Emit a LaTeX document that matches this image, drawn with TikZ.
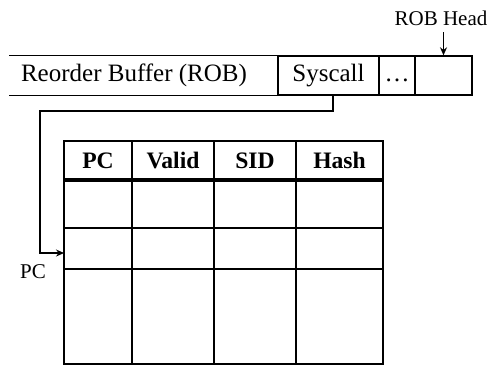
\documentclass[tikz,border=0pt]{standalone}
\usepackage{fontspec}
\setmainfont{Liberation Serif}
\usetikzlibrary{arrows.meta,calc}
\begin{document}
\begin{tikzpicture}[x=0.5pt,y=-0.5pt,
  line width=0.7pt,
  robcell/.style={rectangle,inner sep=0pt,minimum height=19.5pt,
    font=\fontsize{12.5}{14}\selectfont},
  headcell/.style={inner sep=0pt,font=\fontsize{11.8}{14}\selectfont\bfseries},
  smalltext/.style={inner sep=0pt,font=\fontsize{10.5}{12}\selectfont},
  link/.style={-{Stealth[length=4pt,width=3.5pt]}}]
\useasboundingbox (0,0) rectangle (491,366);

% reorder buffer strip (open on the left)
\node[robcell,minimum width=134pt] (robmain) at (144,75.5) {};
\node[robcell] (robtext) at (134,75.5) {\strut Reorder Buffer (ROB)};
\draw (robmain.north west) -- (robmain.north east) -- (robmain.south east) -- (robmain.south west);
\node[robcell,draw,minimum width=50.5pt] (syscall) at (328.5,75.5) {\strut Syscall};
\node[robcell,draw,minimum width=18pt] (dots) at (397,75.5) {\strut\dots};
\node[robcell,draw,minimum width=28.5pt] (head) at (443.5,75.5) {};

% head pointer
\node[smalltext] (robhead) at (441,18) {ROB Head};
\coordinate (headtail) at (443.5,32);
\draw[link] (headtail) -- (head.north);

% table
\draw (64,141) rectangle (383,364);
\foreach \x in {132,214,296} \draw (\x,141) -- (\x,364);
\draw[line width=1.6pt] (64,180) -- (383,180);
\draw (64,228) -- (383,228);
\draw (64,269) -- (383,269);
\node[headcell] (hpc) at (98,160.5) {PC};
\node[headcell] (hvalid) at (173,160.5) {Valid};
\node[headcell] (hsid) at (255,160.5) {SID};
\node[headcell] (hhash) at (339.5,160.5) {Hash};

% syscall PC lookup
\coordinate (bend) at (40,111);
\coordinate (pcin) at (64,253);
\draw[link] ([xshift=2.25pt]syscall.south) |- (bend) |- (pcin);
\node[smalltext] (pclabel) at (33,272) {PC};
\end{tikzpicture}
\end{document}
